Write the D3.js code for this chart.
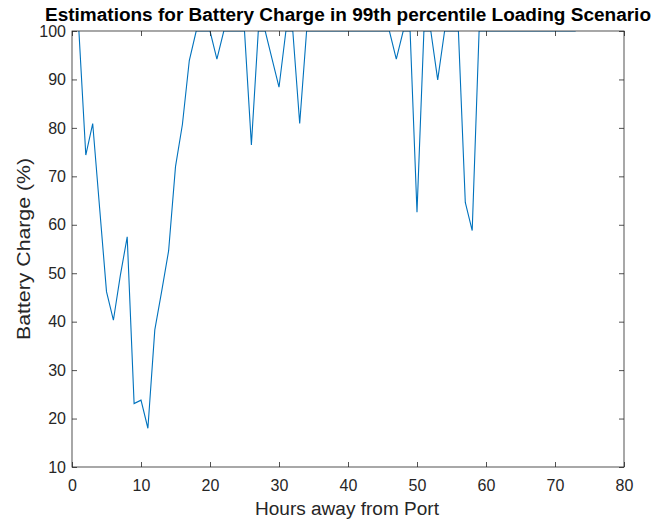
<!DOCTYPE html>
<html>
<head>
<meta charset="utf-8">
<script src="https://cdn.jsdelivr.net/npm/d3@7"></script>
<style>
body { margin: 0; background: #fff; }
text { font-family: "Liberation Sans", Arial, sans-serif; fill: #262626; }
</style>
</head>
<body>
<div id="chart"></div>
<script>
// hours away from port
var hours = d3.range(1, 74);
// battery charge (%)
var charge = [
  100, 74.4, 80.9, 63.5, 46.2, 40.3, 49.5, 57.5, 23.1, 23.8,
  18.0, 38.3, 46.3, 54.6, 72.0, 80.7, 93.9, 100, 100, 100,
  94.2, 100, 100, 100, 100, 76.5, 100, 100, 94.2, 88.4,
  100, 100, 80.9, 100, 100, 100, 100, 100, 100, 100,
  100, 100, 100, 100, 100, 100, 94.2, 100, 100, 62.6,
  100, 100, 89.9, 100, 100, 100, 64.6, 58.8, 100, 100,
  100, 100, 100, 100, 100, 100, 100, 100, 100, 100,
  100, 100, 100
];
var xTicks = [0, 10, 20, 30, 40, 50, 60, 70, 80];
var yTicks = [10, 20, 30, 40, 50, 60, 70, 80, 90, 100];

var W = 655, H = 523;
var margin = {top: 31, right: 31, bottom: 56, left: 72};
var width = W - margin.left - margin.right,
    height = H - margin.top - margin.bottom;

var svg = d3.select("#chart").append("svg")
    .attr("width", W)
    .attr("height", H);

var g = svg.append("g")
    .attr("transform", "translate(" + margin.left + "," + margin.top + ")");

var x = d3.scaleLinear().domain([0, 80]).range([0, width]);
var y = d3.scaleLinear().domain([10, 100]).range([height, 0]);

// data line (clipped to axes box)
svg.append("defs").append("clipPath").attr("id", "clip")
  .append("rect").attr("width", width).attr("height", height);

var line = d3.line()
    .x(function(d, i) { return x(hours[i]); })
    .y(function(d) { return y(d); });

g.append("path")
    .datum(charge)
    .attr("clip-path", "url(#clip)")
    .attr("fill", "none")
    .attr("stroke", "#0072BD")
    .attr("stroke-width", 1.1)
    .attr("d", line);

// axes, ticks inward like matlab
function styleAxis(sel) {
  sel.select(".domain").remove();
  sel.selectAll(".tick line").attr("stroke", "#262626").attr("stroke-width", 0.8);
  sel.selectAll(".tick text").style("font-size", "16px");
}

g.append("g").attr("transform", "translate(0," + height + ")")
  .call(d3.axisBottom(x).tickValues(xTicks).tickSize(-5).tickPadding(13))
  .call(styleAxis);
g.append("g")
  .call(d3.axisTop(x).tickValues(xTicks).tickSize(-5).tickFormat(""))
  .call(styleAxis);
g.append("g")
  .call(d3.axisLeft(y).tickValues(yTicks).tickSize(-5).tickPadding(6))
  .call(styleAxis);
g.append("g").attr("transform", "translate(" + width + ",0)")
  .call(d3.axisRight(y).tickValues(yTicks).tickSize(-5).tickFormat(""))
  .call(styleAxis);

g.append("rect")
    .attr("width", width)
    .attr("height", height)
    .attr("fill", "none")
    .attr("stroke", "#262626")
    .attr("stroke-width", 0.8);

// labels
svg.append("text")
    .attr("x", 348)
    .attr("y", 21)
    .attr("text-anchor", "middle")
    .attr("textLength", 606)
    .attr("lengthAdjust", "spacingAndGlyphs")
    .style("font-size", "17.5px")
    .style("font-weight", "bold")
    .style("fill", "#000")
    .text("Estimations for Battery Charge in 99th percentile Loading Scenario");

svg.append("text")
    .attr("x", 347)
    .attr("y", 515)
    .attr("text-anchor", "middle")
    .attr("textLength", 184)
    .attr("lengthAdjust", "spacingAndGlyphs")
    .style("font-size", "18px")
    .text("Hours away from Port");

svg.append("text")
    .attr("transform", "translate(30," + (margin.top + height / 2) + ") rotate(-90)")
    .attr("text-anchor", "middle")
    .attr("textLength", 182)
    .attr("lengthAdjust", "spacingAndGlyphs")
    .style("font-size", "18px")
    .text("Battery Charge (%)");
</script>
</body>
</html>
